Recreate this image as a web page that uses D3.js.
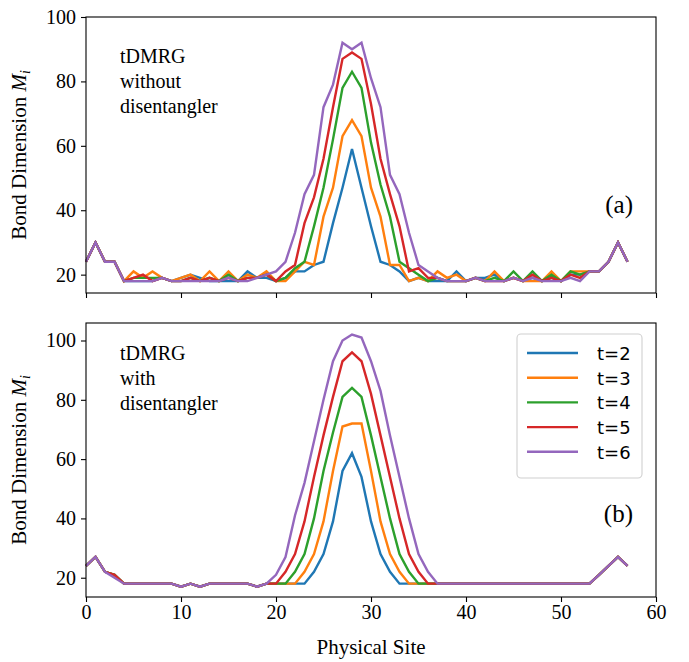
<!DOCTYPE html>
<html>
<head>
<meta charset="utf-8">
<script src="https://cdn.jsdelivr.net/npm/d3@7"></script>
<style>
  body { margin: 0; background: #fff; }
  svg { display: block; }
</style>
</head>
<body>
<div id="chart"></div>
<script>
// datos: dimension de enlace por sitio (0..57)
var sites = d3.range(0, 58);
var seriesNames = ["t=2", "t=3", "t=4", "t=5", "t=6"];
var colors = ["#1f77b4", "#ff7f0e", "#2ca02c", "#d62728", "#9467bd"];
var xTicks = [0, 10, 20, 30, 40, 50, 60];
var yTicks = [20, 40, 60, 80, 100];

// panel (a): sin disentangler
var topT2 = [24,30,24,24,18, 18,18,18,19,18, 19,20,19,18,18, 18,18,21,19,19,
  18,19,21,21,23, 24,36,47,59,47, 35,24,23,21,18, 19,18,18,18,21, 18,19,19,20,18,
  19,18,19,18,19, 18,20,20,21,21, 24,30,24];
var topT3 = [24,30,24,24,18, 21,19,21,19,18, 19,20,18,21,18, 21,18,20,19,21,
  18,18,21,24,23, 38,47,63,68,63, 47,38,23,23,18, 19,18,21,19,20, 18,19,18,21,18,
  19,18,18,18,21, 18,21,21,21,21, 24,30,24];
var topT4 = [24,30,24,24,18, 19,19,19,19,18, 18,19,18,19,18, 20,18,19,19,20,
  18,19,22,24,35, 47,62,78,83,78, 61,48,38,24,22, 20,18,19,18,18, 18,19,18,19,18,
  21,18,21,18,20, 18,21,20,21,21, 24,30,24];
var topT5 = [24,30,24,24,18, 19,20,18,19,18, 18,19,18,19,18, 19,18,19,19,20,
  18,21,23,36,44, 56,72,87,89,87, 73,56,45,35,21, 22,19,19,18,18, 18,19,18,18,18,
  19,18,20,18,19, 18,20,19,21,21, 24,30,24];
var topT6 = [24,30,24,24,18, 18,18,18,19,18, 18,18,18,18,18, 19,18,18,19,20,
  21,24,33,45,51, 72,79,92,90,92, 81,72,51,45,33, 23,21,19,18,18, 18,19,18,18,18,
  19,18,19,18,18, 18,19,18,21,21, 24,30,24];

// panel (b): con disentangler
var botT2 = [24,27,22,21,18, 18,18,18,18,18, 17,18,17,18,18, 18,18,18,17,18,
  18,18,18,18,22, 28,39,56,62,54, 39,28,22,18,18, 18,18,18,18,18, 18,18,18,18,18,
  18,18,18,18,18, 18,18,18,18,21, 24,27,24];
var botT3 = [24,27,22,21,18, 18,18,18,18,18, 17,18,17,18,18, 18,18,18,17,18,
  18,18,18,22,28, 39,56,71,72,72, 56,39,28,22,18, 18,18,18,18,18, 18,18,18,18,18,
  18,18,18,18,18, 18,18,18,18,21, 24,27,24];
var botT4 = [24,27,22,21,18, 18,18,18,18,18, 17,18,17,18,18, 18,18,18,17,18,
  18,18,22,28,40, 56,69,81,84,81, 68,54,40,28,22, 18,18,18,18,18, 18,18,18,18,18,
  18,18,18,18,18, 18,18,18,18,21, 24,27,24];
var botT5 = [24,27,22,21,18, 18,18,18,18,18, 17,18,17,18,18, 18,18,18,17,18,
  18,22,28,39,54, 68,81,93,96,93, 82,68,54,40,28, 22,18,18,18,18, 18,18,18,18,18,
  18,18,18,18,18, 18,18,18,18,21, 24,27,24];
var botT6 = [24,27,22,20,18, 18,18,18,18,18, 17,18,17,18,18, 18,18,18,17,18,
  21,27,41,52,66, 80,93,100,102,101, 93,83,68,54,40, 28,22,18,18,18, 18,18,18,18,18,
  18,18,18,18,18, 18,18,18,18,21, 24,27,24];

var width = 689, height = 662;
var left = 86, right = 656;
var serif = "'Liberation Serif', 'DejaVu Serif', serif";

var svg = d3.select("#chart").append("svg")
    .attr("width", width)
    .attr("height", height);

var x = d3.scaleLinear().domain([0, 60]).range([left, right]);

var panels = [
  { top: 17, bottom: 293, domain: [14.3, 100], data: [topT2, topT3, topT4, topT5, topT6],
    note: ["tDMRG", "without", "disentangler"], noteY: 63, tag: "(a)", tagY: 213, xLabels: false },
  { top: 323, bottom: 597, domain: [13.5, 105.9], data: [botT2, botT3, botT4, botT5, botT6],
    note: ["tDMRG", "with", "disentangler"], noteY: 360, tag: "(b)", tagY: 522, xLabels: true }
];

panels.forEach(function(p) {
  var y = d3.scaleLinear().domain(p.domain).range([p.bottom, p.top]);
  var g = svg.append("g");

  // lineas
  var line = d3.line()
      .x(function(d, i) { return x(sites[i]); })
      .y(function(d) { return y(d); });

  g.selectAll("path.serie")
    .data(p.data)
    .enter().append("path")
    .attr("class", "serie")
    .attr("d", line)
    .attr("fill", "none")
    .attr("stroke", function(d, i) { return colors[i]; })
    .attr("stroke-width", 2.4)
    .attr("stroke-linejoin", "miter");

  // ejes
  var xAxis = d3.axisBottom(x).tickValues(xTicks).tickSize(5).tickPadding(3)
      .tickFormat(p.xLabels ? d3.format("d") : "");
  var gx = g.append("g")
    .attr("transform", "translate(0," + p.bottom + ")")
    .call(xAxis);
  var yAxis = d3.axisLeft(y).tickValues(yTicks).tickSize(5).tickPadding(5);
  var gy = g.append("g")
    .attr("transform", "translate(" + left + ",0)")
    .call(yAxis);
  [gx, gy].forEach(function(a) {
    a.select(".domain").remove();
    a.selectAll(".tick line").attr("stroke", "#000").attr("stroke-width", 1.1);
    a.selectAll(".tick text").attr("fill", "#000")
      .style("font-family", serif).style("font-size", "20px");
  });

  // marco
  g.append("rect")
    .attr("x", left).attr("y", p.top)
    .attr("width", right - left).attr("height", p.bottom - p.top)
    .attr("fill", "none").attr("stroke", "#000").attr("stroke-width", 1.1);

  // etiqueta eje y
  var ly = g.append("text")
    .attr("transform", "translate(26," + ((p.top + p.bottom) / 2) + ") rotate(-90)")
    .attr("text-anchor", "middle")
    .style("font-family", serif).style("font-size", "21px");
  ly.append("tspan").text("Bond Dimension ");
  ly.append("tspan").style("font-style", "italic").text("M");
  ly.append("tspan").style("font-style", "italic").style("font-size", "14px")
    .attr("dy", 4).text("i");

  // nota
  g.selectAll("text.note")
    .data(p.note)
    .enter().append("text")
    .attr("class", "note")
    .attr("x", 120)
    .attr("y", function(d, i) { return p.noteY + i * 25; })
    .style("font-family", serif).style("font-size", "20px")
    .text(function(d) { return d; });

  g.append("text")
    .attr("x", 633).attr("y", p.tagY)
    .attr("text-anchor", "end")
    .style("font-family", serif).style("font-size", "25px")
    .text(p.tag);
});

// titulo eje x
svg.append("text")
  .attr("x", (left + right) / 2).attr("y", 654)
  .attr("text-anchor", "middle")
  .style("font-family", serif).style("font-size", "21px")
  .text("Physical Site");

// leyenda
var leg = svg.append("g");
leg.append("rect")
  .attr("x", 517).attr("y", 334)
  .attr("width", 125).attr("height", 144)
  .attr("rx", 4)
  .attr("fill", "#fff").attr("fill-opacity", 0.8)
  .attr("stroke", "#d0d0d0").attr("stroke-width", 1.1);

var items = leg.selectAll("g.item")
  .data(seriesNames)
  .enter().append("g")
  .attr("class", "item")
  .attr("transform", function(d, i) { return "translate(0," + (353 + i * 24.7) + ")"; });
items.append("line")
  .attr("x1", 527).attr("x2", 578)
  .attr("stroke", function(d, i) { return colors[i]; })
  .attr("stroke-width", 2.4);
items.append("text")
  .attr("x", 597).attr("y", 7)
  .style("font-family", "'DejaVu Sans', sans-serif").style("font-size", "18px")
  .text(function(d) { return d; });
</script>
</body>
</html>
